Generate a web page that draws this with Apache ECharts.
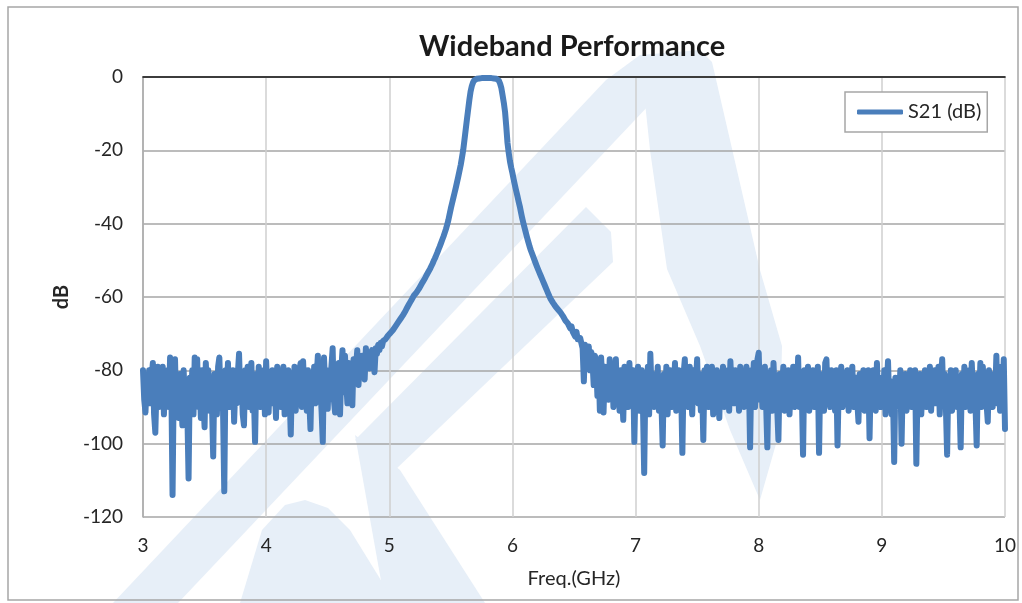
<!DOCTYPE html>
<html>
<head>
<meta charset="utf-8">
<script src="https://cdn.jsdelivr.net/npm/echarts@6/dist/echarts.min.js"></script>
<style>
html,body{margin:0;padding:0;background:#fff;}
#chart{width:1022px;height:603px;}
</style>
</head>
<body>
<div id="chart"></div>
<script>
// Sweep: 3.00 GHz to 10.00 GHz, 0.01 GHz step (each row = 0.1 GHz)
const freqStart = 3.0;
const freqStep = 0.01;
const xTicks = [3, 4, 5, 6, 7, 8, 9, 10];
const yTicks = [-120, -100, -80, -60, -40, -20, 0];
const seriesName = 'S21 (dB)';
// S21 values (dB)
const s21 = [
  /* 3.0 */ -80, -88, -91.5, -83, -86, -80, -89, -82, -78, -92,
  /* 3.1 */ -97, -84, -79, -90, -85, -88, -79, -92, -82, -87,
  /* 3.2 */ -80, -90, -76.5, -84, -114, -82, -77, -91, -83, -93,
  /* 3.3 */ -81, -87, -95, -80, -88, -84, -91, -109.5, -82, -89,
  /* 3.4 */ -80, -92, -76.5, -86, -77, -90, -83, -93, -80, -88,
  /* 3.5 */ -95.5, -78, -86, -80, -91, -84, -89, -103.5, -81, -87,
  /* 3.6 */ -92, -79, -76.5, -88, -82, -91, -113, -80, -86, -78,
  /* 3.7 */ -90, -83, -88, -80, -94, -84, -89, -81, -75.5, -87,
  /* 3.8 */ -82, -92, -95, -80, -88, -79, -90, -84, -78, -91,
  /* 3.9 */ -86, -99.5, -81, -88, -79, -90, -83, -87, -80, -92,
  /* 4.0 */ -77.5, -86, -91.5, -82, -89, -80, -88, -84, -93, -79,
  /* 4.1 */ -87, -81, -90, -84, -79, -92, -83, -88, -80, -86,
  /* 4.2 */ -97.5, -82, -89, -79, -91, -84, -87, -80, -78, -90,
  /* 4.3 */ -77.5, -86, -82, -91, -80, -88, -96, -81, -86, -79,
  /* 4.4 */ -89, -82, -76, -88, -84, -91, -99.5, -76.5, -85, -80,
  /* 4.5 */ -90.5, -81, -87, -79, -74, -88, -91.5, -80, -85, -78,
  /* 4.6 */ -92, -80, -74.5, -86, -76, -83, -89, -78, -84, -80,
  /* 4.7 */ -89.5, -77, -82, -79, -74.5, -84, -78, -81, -76, -80,
  /* 4.8 */ -82.5, -74, -78, -75, -79.5, -76, -74.5, -77, -80.5, -74,
  /* 4.9 */ -75.5, -73, -74.5, -72.5, -73.5, -72, -72.5, -71.5, -71, -70.5,
  /* 5.0 */ -70, -69.8, -69.4, -69, -68.5, -68, -67.5, -67, -66.5, -66,
  /* 5.1 */ -65.5, -65, -64.5, -63.9, -63.2, -62.6, -62, -61.4, -60.8, -60.2,
  /* 5.2 */ -59.6, -59.2, -58.8, -58.3, -57.8, -57.2, -56.6, -56, -55.5, -54.9,
  /* 5.3 */ -54.2, -53.6, -53, -52.4, -51.7, -51, -50.2, -49.5, -48.7, -47.9,
  /* 5.4 */ -47, -46.2, -45.3, -44.4, -43.5, -42.5, -41.5, -40.3, -39, -37.4,
  /* 5.5 */ -35.8, -34.4, -33, -31.6, -30.2, -28.7, -27.2, -25.6, -24, -22,
  /* 5.6 */ -20, -17.3, -14.5, -11.7, -9, -6.3, -4, -2.5, -1.5, -0.9,
  /* 5.7 */ -0.6, -0.5, -0.4, -0.4, -0.4, -0.3, -0.3, -0.3, -0.3, -0.3,
  /* 5.8 */ -0.3, -0.3, -0.3, -0.3, -0.4, -0.4, -0.4, -0.5, -0.6, -1,
  /* 5.9 */ -1.8, -3, -5, -7, -9.5, -13.5, -18, -20.7, -23, -24.7,
  /* 6.0 */ -26.2, -27.9, -29.5, -31, -32.4, -33.9, -35.3, -37, -38.6, -40,
  /* 6.1 */ -41.3, -42.6, -43.9, -45.1, -46.3, -47.3, -48.2, -49.1, -50, -50.9,
  /* 6.2 */ -51.8, -52.6, -53.4, -54.2, -55, -55.8, -56.6, -57.4, -58.2, -59,
  /* 6.3 */ -59.8, -60.5, -61, -61.6, -62, -62.6, -62.8, -63.4, -63.5, -64.2,
  /* 6.4 */ -64.5, -65.2, -65.5, -66.4, -66, -67.2, -67.5, -68.6, -68, -69.5,
  /* 6.5 */ -70, -70.8, -69.5, -71.5, -72, -71.2, -71, -74, -83, -73,
  /* 6.6 */ -74, -76.5, -73.5, -80, -75, -77.5, -84, -76, -78, -87,
  /* 6.7 */ -78, -91, -76.5, -83, -91.5, -79, -86, -80, -88, -77,
  /* 6.8 */ -85, -79, -90, -82, -77, -88, -81, -91, -80, -86,
  /* 6.9 */ -93.5, -79, -87, -82, -90, -78, -88, -84, -80, -99.5,
  /* 7.0 */ -83, -88, -79, -91, -84, -80, -90, -108, -82, -87,
  /* 7.1 */ -79, -92, -75.5, -86, -81, -90, -84, -88, -79, -91,
  /* 7.2 */ -83, -89, -100.5, -81, -87, -79, -92, -84, -80, -90,
  /* 7.3 */ -82, -88, -78, -91, -84, -80, -89, -85, -102.5, -81,
  /* 7.4 */ -77, -88, -82, -90, -79, -86, -92, -80, -87, -83,
  /* 7.5 */ -77, -89, -81, -91, -84, -99, -80, -88, -79, -90,
  /* 7.6 */ -83, -87, -79, -92, -82, -89, -80, -86, -93, -81,
  /* 7.7 */ -87, -79, -90, -84, -88, -80, -91, -77.5, -85, -82,
  /* 7.8 */ -89, -80, -87, -83, -91, -79, -88, -81, -90, -84,
  /* 7.9 */ -79, -88, -82, -101, -80, -87, -78, -90, -83, -77,
  /* 8.0 */ -75.2, -88, -81, -90, -84, -79, -89, -101, -82, -87,
  /* 8.1 */ -80, -91, -78, -86, -83, -90, -99, -81, -88, -84,
  /* 8.2 */ -79, -91, -83, -88, -80, -92, -84, -87, -79, -90,
  /* 8.3 */ -82, -88, -76.5, -90, -84, -86, -103, -80, -89, -83,
  /* 8.4 */ -79, -91, -82, -88, -80, -90, -84, -87, -79, -102.5,
  /* 8.5 */ -81, -89, -83, -91, -78, -77, -88, -82, -90, -80,
  /* 8.6 */ -87, -83, -91, -80, -100.5, -84, -88, -79, -90, -82,
  /* 8.7 */ -89, -84, -80, -91, -83, -87, -79, -90, -85, -82,
  /* 8.8 */ -88, -94, -81, -89, -84, -80, -91, -83, -87, -80,
  /* 8.9 */ -98.5, -82, -89, -80, -86, -91, -78, -88, -83, -90,
  /* 9.0 */ -82, -88, -80, -92, -84, -77.5, -89, -83, -92, -86,
  /* 9.1 */ -105, -82, -90, -84, -88, -80, -100, -83, -89, -81,
  /* 9.2 */ -91, -84, -87, -80, -90, -83, -88, -80, -105.5, -84,
  /* 9.3 */ -89, -81, -92, -84, -88, -80, -90, -83, -87, -79,
  /* 9.4 */ -91, -82, -88, -80, -89, -84, -79, -92, -83, -77,
  /* 9.5 */ -88, -81, -90, -103, -82, -88, -80, -91, -84, -87,
  /* 9.6 */ -80, -90, -83, -88, -101, -81, -89, -79, -90, -84,
  /* 9.7 */ -88, -80, -91, -78, -86, -82, -89, -100.5, -81, -88,
  /* 9.8 */ -78, -90, -79, -86, -82, -89, -94, -80, -88, -83,
  /* 9.9 */ -90, -81, -87, -76, -89, -82, -91, -79, -86, -77,
  /* 10.0 */ -96
];

const points = s21.map((v, i) => [+(freqStart + i * freqStep).toFixed(2), v]);

const chart = echarts.init(document.getElementById('chart'), null, {renderer: 'canvas'});
const wm = '#e7eff8';
const font = 'Lato, "Open Sans", sans-serif';

function wmPoly(pts) {
  return {type: 'polygon', z: -10, silent: true, shape: {points: pts}, style: {fill: wm}};
}

chart.setOption({
  animation: false,
  backgroundColor: '#ffffff',
  title: {
    text: 'Wideband Performance',
    left: 414,
    top: 27,
    textStyle: {fontFamily: font, fontSize: 29, fontWeight: 'bold', color: '#1a1a1a'}
  },
  legend: {
    data: [seriesName],
    left: 845,
    top: 92,
    orient: 'horizontal',
    icon: 'roundRect',
    itemWidth: 46,
    itemHeight: 5,
    padding: [10, 6, 10, 12],
    borderColor: '#a6a6a6',
    borderWidth: 1.5,
    backgroundColor: '#ffffff',
    textStyle: {fontFamily: font, fontSize: 20, color: '#262626'}
  },
  graphic: [
    // watermark (faint logo behind the plot)
    wmPoly([[113, 603], [178, 603], [668, 85], [690, 60], [640, 55], [606, 80]]),
    wmPoly([[640, 55], [700, 50], [712, 62], [760, 270], [782, 346], [780, 430], [760, 500], [730, 430], [700, 346], [667, 269], [650, 150]]),
    wmPoly([[355, 440], [395, 470], [613, 262], [611, 232], [586, 207]]),
    wmPoly([[355, 435], [400, 470], [485, 603], [385, 603]]),
    wmPoly([[240, 603], [262, 530], [285, 505], [305, 500], [328, 508], [350, 530], [395, 603]]),
    {type: 'rect', z: 100, silent: true,
     shape: {x: 8, y: 7, width: 1010, height: 593},
     style: {fill: 'none', stroke: '#a6a6a6', lineWidth: 1.5}}
  ],
  grid: {left: 143, right: 17, top: 77, bottom: 86, containLabel: false},
  xAxis: [
    {
      type: 'value', min: xTicks[0], max: xTicks[xTicks.length - 1], interval: 1,
      name: 'Freq.(GHz)', nameLocation: 'middle', nameGap: 52,
      nameTextStyle: {fontFamily: font, fontSize: 20, color: '#262626'},
      axisLine: {show: true, lineStyle: {color: '#a0a0a0', width: 1.5}},
      axisTick: {show: false},
      axisLabel: {fontFamily: font, fontSize: 19, color: '#262626', margin: 19},
      splitLine: {show: true, lineStyle: {color: '#cfcfcf', width: 1.5}}
    },
    {
      type: 'value', position: 'top', min: xTicks[0], max: xTicks[xTicks.length - 1],
      axisLine: {show: true, lineStyle: {color: '#1a1a1a', width: 1.5}},
      axisTick: {show: false}, axisLabel: {show: false}, splitLine: {show: false}
    }
  ],
  yAxis: {
    type: 'value', min: yTicks[0], max: yTicks[yTicks.length - 1], interval: 20,
    name: 'dB', nameLocation: 'middle', nameGap: 71,
    nameTextStyle: {fontFamily: font, fontSize: 20, fontWeight: 'bold', color: '#262626'},
    axisLine: {show: true, lineStyle: {color: '#a6a6a6', width: 1.5}},
    axisTick: {show: false},
    axisLabel: {fontFamily: font, fontSize: 19, color: '#262626', margin: 20},
    splitLine: {show: true, lineStyle: {color: '#a6a6a6', width: 1.5}}
  },
  series: [{
    name: seriesName,
    type: 'line',
    xAxisIndex: 0,
    data: points,
    showSymbol: false,
    symbol: 'none',
    smooth: false,
    sampling: 'none',
    color: '#4a7ebb',
    lineStyle: {color: '#4a7ebb', width: 6, cap: 'round', join: 'round'},
    z: 5
  }]
});
</script>
</body>
</html>
